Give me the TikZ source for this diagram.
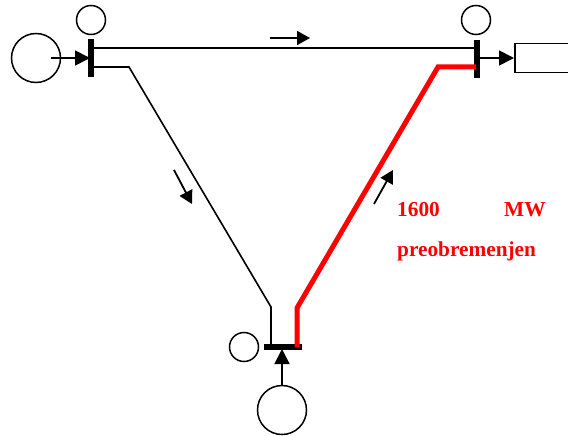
\documentclass[tikz,border=0pt]{standalone}
\usepackage{fontspec}
\setmainfont{Liberation Serif}
\usetikzlibrary{arrows.meta}
\definecolor{ovl}{RGB}{255,0,0}
\tikzset{
  x=1pt,y=-1pt,
  bigcirc/.style={circle,draw,line width=1.5pt,minimum size=49pt,inner sep=0pt},
  smallcirc/.style={circle,draw,line width=1.5pt,minimum size=29pt,inner sep=0pt},
  vbar/.style={fill=black,minimum width=5.5pt,minimum height=38pt,inner sep=0pt},
  hbar/.style={fill=black,minimum width=38pt,minimum height=5.5pt,inner sep=0pt},
  loadbox/.style={draw,line width=1.6pt,minimum width=60pt,minimum height=29pt,inner sep=0pt},
  line/.style={line width=1.6pt},
  hot/.style={line width=5pt,ovl,line join=miter},
  arr/.style={line width=1.8pt,-{Triangle[length=15pt,width=15pt]}},
  flow/.style={line width=1.8pt,-{Triangle[length=13pt,width=14pt]}},
  lab/.style={ovl,font=\fontsize{21.3}{24}\selectfont\bfseries,anchor=base west,inner sep=0pt}
}
\begin{document}
\begin{tikzpicture}
\useasboundingbox (0,0) rectangle (568,436);
\node[bigcirc] (g1) at (36,58) {};
\node[smallcirc] (c1) at (91,20) {};
\node[vbar] (b1) at (91,58) {};
\node[smallcirc] (c2) at (476,20) {};
\node[vbar] (b2) at (477,59) {};
\node[loadbox,anchor=west] (load) at (514,58) {};
\node[hbar] (b3) at (283,347) {};
\node[smallcirc] (c3) at (244,347) {};
\node[bigcirc] (g3) at (282,410) {};
\coordinate (a1) at (91,48);
\coordinate (a2) at (476,48);
\coordinate (l1) at (91,67);
\coordinate (l2) at (129,67);
\coordinate (l3) at (271,307);
\coordinate (l4) at (271,347);
\coordinate (r1) at (476,67);
\coordinate (r2) at (438,67);
\coordinate (r3) at (297,308);
\coordinate (r4) at (297,347);
\coordinate (gs) at (51,58);
\coordinate (ge) at (90,58);
\coordinate (os) at (476,58);
\coordinate (gb) at (282,386);
\coordinate (ge3) at (282,349);
\coordinate (f1s) at (270,38);
\coordinate (f1e) at (310,38);
\coordinate (f2s) at (174,170);
\coordinate (f2e) at (192,204);
\coordinate (f3s) at (374,204);
\coordinate (f3e) at (393,170);
\draw[line] (a1) -- (a2);
\draw[line] (l1) -- (l2) -- (l3) -- (l4);
\draw[hot] (r1) -- (r2) -- (r3) -- (r4);
\draw[arr] (gs) -- (ge);
\draw[arr] (os) -- (load.west);
\draw[arr] (gb) -- (ge3);
\draw[flow] (f1s) -- (f1e);
\draw[flow] (f2s) -- (f2e);
\draw[flow] (f3s) -- (f3e);
\node[lab] (t1) at (397,216) {1600};
\node[lab] (t2) at (504,216) {MW};
\node[lab] (t3) at (397,256) {preobremenjen};
\end{tikzpicture}
\end{document}
